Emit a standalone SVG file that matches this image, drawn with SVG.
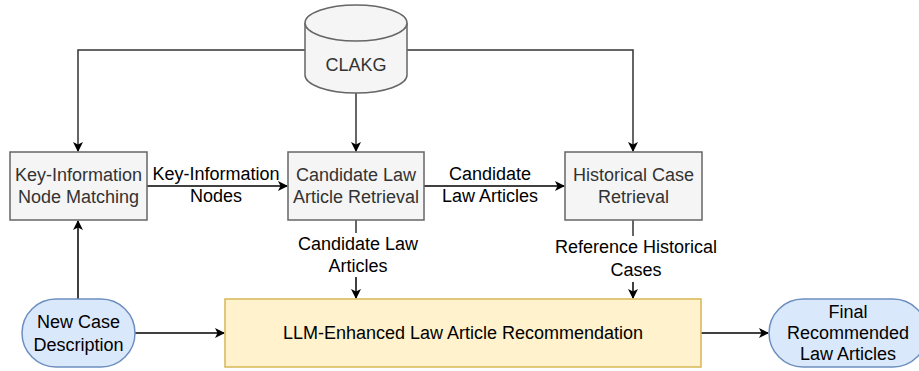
<svg xmlns="http://www.w3.org/2000/svg" width="919" height="371" viewBox="0 0 919 371">
<defs>
<style>
.box{fill:#f5f5f5;stroke:#666666;stroke-width:1.5}
.term{fill:#dae8fc;stroke:#6c8ebf;stroke-width:1.5}
.llm{fill:#fff2cc;stroke:#d6b656;stroke-width:1.5}
.t{font-family:"Liberation Sans",Arial,Helvetica,sans-serif;font-size:18px;text-anchor:middle}
.g{fill:#333333}
.k{fill:#000000}
.e{fill:none;stroke:#000000;stroke-width:1.5}
.eg{fill:none;stroke:#333333;stroke-width:1.5}
</style>
<marker id="arr" viewBox="0 0 10 10" refX="9" refY="5" markerWidth="10" markerHeight="10" markerUnits="userSpaceOnUse" orient="auto">
<path d="M0,0 L10,5 L0,10 L2.5,5 Z" fill="#000000"/>
</marker>
</defs>
<rect width="919" height="371" fill="#ffffff"/>
<g id="connectors">
<path class="eg" d="M305,50 H78 V151" marker-end="url(#arr)"/>
<path class="eg" d="M407,50 H633 V151" marker-end="url(#arr)"/>
<path class="eg" d="M356,93 V151" marker-end="url(#arr)"/>
<path class="e" d="M147,186 H287" marker-end="url(#arr)"/>
<path class="e" d="M424,186 H564" marker-end="url(#arr)"/>
<path class="e" d="M78,299 V221" marker-end="url(#arr)"/>
<path class="eg" d="M356,220 V233"/>
<path class="e" d="M356,277 V298" marker-end="url(#arr)"/>
<path class="eg" d="M633,220 V236"/>
<path class="e" d="M633,282 V298" marker-end="url(#arr)"/>
<path class="e" d="M135,333 H224" marker-end="url(#arr)"/>
<path class="e" d="M701,333 H768" marker-end="url(#arr)"/>
<text class="t k" x="216" y="180">Key-Information</text>
<text class="t k" x="216" y="202">Nodes</text>
<text class="t k" x="490" y="180">Candidate</text>
<text class="t k" x="490" y="202">Law Articles</text>
<text class="t k" x="358" y="250">Candidate Law</text>
<text class="t k" x="358" y="272">Articles</text>
<text class="t k" x="636" y="253">Reference Historical</text>
<text class="t k" x="636" y="276">Cases</text>
</g>
<g id="clakg">
<path class="box" d="M305,23 A51,18 0 0 1 407,23 V75 A51,18 0 0 1 305,75 Z"/>
<path class="box" d="M305,23 A51,18 0 0 0 407,23" fill="none"/>
<text class="t g" x="356" y="71">CLAKG</text>
</g>
<g id="key-info">
<rect class="box" x="10" y="152" width="137" height="68"/>
<text class="t g" x="78.5" y="181">Key-Information</text>
<text class="t g" x="78.5" y="203">Node Matching</text>
</g>
<g id="candidate">
<rect class="box" x="288" y="152" width="136" height="68"/>
<text class="t g" x="356" y="181">Candidate Law</text>
<text class="t g" x="356" y="203">Article Retrieval</text>
</g>
<g id="historical">
<rect class="box" x="565" y="152" width="137" height="68"/>
<text class="t g" x="633.5" y="181">Historical Case</text>
<text class="t g" x="633.5" y="203">Retrieval</text>
</g>
<g id="new-case">
<rect class="term" x="22" y="299" width="113" height="68" rx="34" ry="34"/>
<text class="t k" x="78.5" y="328">New Case</text>
<text class="t k" x="78.5" y="351">Description</text>
</g>
<g id="llm">
<rect class="llm" x="225" y="299" width="476" height="68"/>
<text class="t k" x="463" y="339">LLM-Enhanced Law Article Recommendation</text>
</g>
<g id="final">
<rect class="term" x="769" y="299" width="158" height="68" rx="34" ry="34"/>
<text class="t k" x="848" y="318">Final</text>
<text class="t k" x="848" y="339">Recommended</text>
<text class="t k" x="848" y="360">Law Articles</text>
</g>
</svg>
